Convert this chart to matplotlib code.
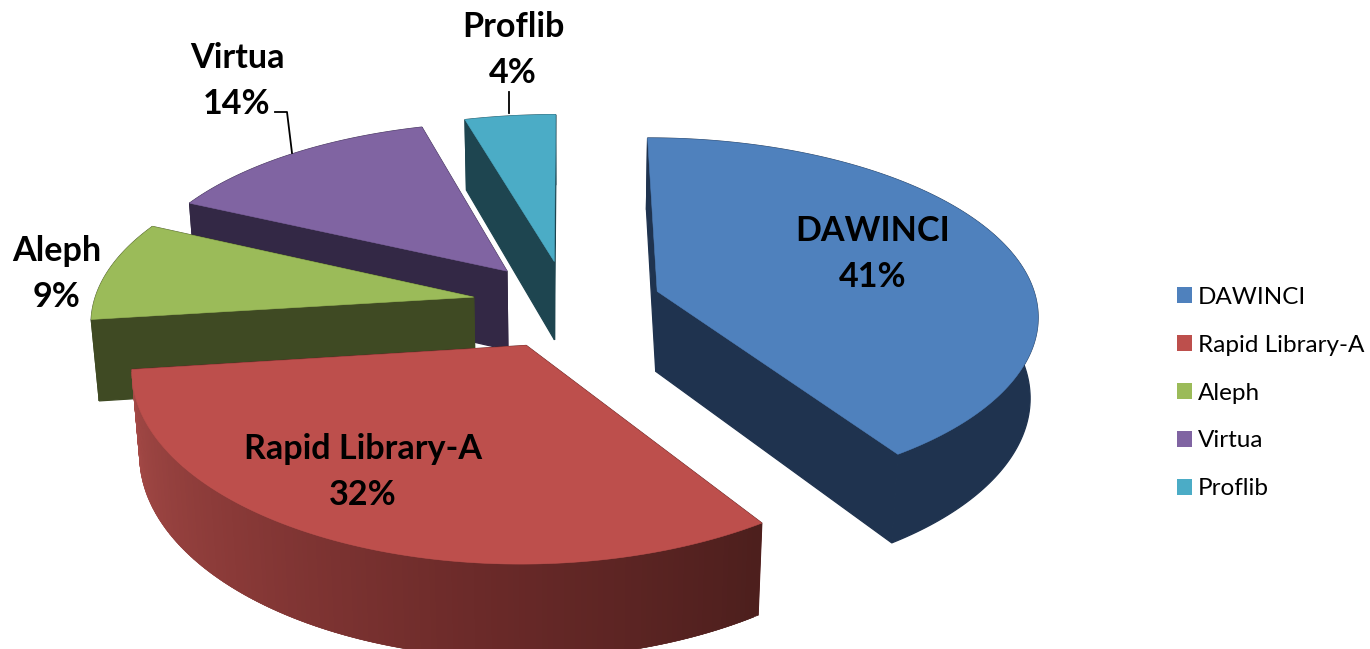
import numpy as np
import matplotlib
matplotlib.use("Agg")
import matplotlib.pyplot as plt
from matplotlib.colors import LinearSegmentedColormap
from matplotlib.patches import Patch, Polygon

# Chart data (unrounded shares are estimates from the slice edges)
names = ["DAWINCI", "Rapid Library-A", "Aleph", "Virtua", "Proflib"]
shares = [40.7, 32.3, 9, 13.6, 4.4]
top_colors = ["#4F81BD", "#BD4F4C", "#9BBB59", "#8064A2", "#4BACC6"]
side_colors = ["#1F334F", "#5A2322", "#3F4A23", "#332845", "#1E4550"]

# Hand-fitted view of the tilted pie
cx, cy = 567, 304
radius = 380
tilt = 0.466
persp_x = 0.12
persp_y = 0.134
shrink = 0.017
depth = 82
explode = 0.25

plt.rcParams["font.family"] = ["Lato", "DejaVu Sans"]

fig = plt.figure(figsize=(13.7, 6.49), dpi=100)
ax = fig.add_axes([0, 0, 1, 1])
ax.set_xlim(0, 1370)
ax.set_ylim(649, 0)
ax.axis("off")


def project(x, y, z):
    sx = 1 / (1 + persp_x * y - shrink * z)
    sy = 1 / (1 + persp_y * y)
    return cx + radius * x * sx, cy - radius * tilt * y * sy - depth * z * sx


def add_poly(pts, color, z, lw=0.9):
    ax.add_patch(Polygon(pts, closed=True, facecolor=color, edgecolor=color,
                         linewidth=lw, zorder=z))


rapid_wall = LinearSegmentedColormap.from_list(
    "rapid_wall", ["#4D1F1D", "#6B2A29", "#8A3A38", "#A54A47"])

edges = np.radians(np.cumsum([0] + shares) * 3.6)

# Back slices first, Rapid Library last because it sits in front
for order, i in enumerate([4, 3, 2, 0, 1]):
    a0, a1 = edges[i], edges[i + 1]
    mid = (a0 + a1) / 2
    ox, oy = explode * np.sin(mid), explode * np.cos(mid)
    ang = np.linspace(a0, a1, 160)
    rim_x, rim_y = ox + np.sin(ang), oy + np.cos(ang)
    base = order * 10

    # cut faces
    for a in (a0, a1):
        ex, ey = ox + np.sin(a), oy + np.cos(a)
        add_poly([project(ox, oy, 0), project(ex, ey, 0),
                  project(ex, ey, -1), project(ox, oy, -1)], side_colors[i], base)

    # outer wall, Rapid Library gets overlapping strips so it shades along the rim
    if i == 1:
        for j in range(len(ang) - 2):
            add_poly([project(rim_x[j], rim_y[j], 0), project(rim_x[j + 2], rim_y[j + 2], 0),
                      project(rim_x[j + 2], rim_y[j + 2], -1), project(rim_x[j], rim_y[j], -1)],
                     rapid_wall(j / (len(ang) - 3)), base + 1, lw=0.4)
    else:
        upper = [project(x, y, 0) for x, y in zip(rim_x, rim_y)]
        lower = [project(x, y, -1) for x, y in zip(rim_x, rim_y)]
        add_poly(upper + lower[::-1], side_colors[i], base + 1)

    # top surface
    top = [project(ox, oy, 0)] + [project(x, y, 0) for x, y in zip(rim_x, rim_y)]
    add_poly(top, top_colors[i], base + 2, lw=0.4)

# Slice labels
label_pos = [(873, 254), (363, 472), (57, 274), (237, 81), (513, 50)]
for name, share, (lx, ly) in zip(names, shares, label_pos):
    ax.text(lx, ly, f"{name}\n{share:.0f}%", ha="center", va="center", fontsize=24.6,
            fontweight="bold", color="black", linespacing=1.53, zorder=100)

# Leader lines
ax.plot([275, 287, 292], [112, 112, 153], color="black", lw=1.3, zorder=100)
ax.plot([509, 509], [92, 113], color="black", lw=1.3, zorder=100)

handles = [Patch(facecolor=c, edgecolor="none") for c in top_colors]
ax.legend(handles, names, loc="center left", bbox_to_anchor=(1177, 393),
          bbox_transform=ax.transData, frameon=False, fontsize=17.5,
          handlelength=0.62, handleheight=0.62, handletextpad=0.25,
          labelspacing=1.11, borderpad=0, borderaxespad=0)

fig.savefig("out.png", dpi=100)
